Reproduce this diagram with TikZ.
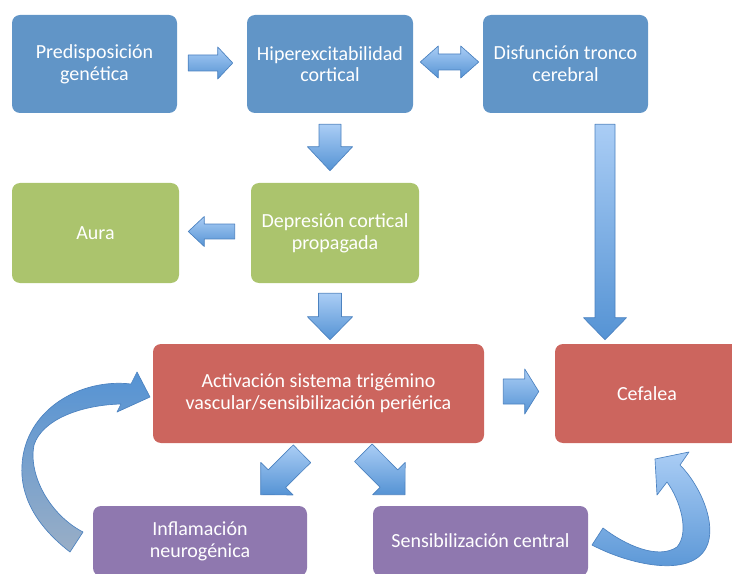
\documentclass[tikz,border=0pt]{standalone}
\usepackage{fontspec}
\setmainfont{Carlito}
\usepackage{tikz}
\usetikzlibrary{calc}
\usepackage{xcolor}

\definecolor{boxblue}{HTML}{6195C7}
\definecolor{boxgreen}{HTML}{ABC46D}
\definecolor{boxred}{HTML}{CC655E}
\definecolor{boxpurple}{HTML}{8F78AF}
\definecolor{arrowtop}{HTML}{AACDF5}
\definecolor{arrowbot}{HTML}{5593D4}
\definecolor{arrowline}{HTML}{4C82C0}

\tikzset{
  stepbox/.style={rounded corners=6pt, inner sep=0pt, align=center, text=white,
                  font=\fontsize{15}{16.3}\selectfont},
  blockarrow/.style={draw=arrowline, line width=0.5pt, line join=round,
                     top color=arrowtop, bottom color=arrowbot}
}

% block arrow: start, end, shaft half width, head half width, head length
\newcommand{\blockarrow}[5]{%
  \coordinate (hb) at ($(#2)!#5!(#1)$);
  \path[blockarrow] ($(#1)!#3!90:(#2)$) -- ($(hb)!#3!-90:(#1)$)
    -- ($(hb)!#4!-90:(#1)$) -- (#2) -- ($(hb)!#4!90:(#1)$)
    -- ($(hb)!#3!90:(#1)$) -- ($(#1)!#3!-90:(#2)$) -- cycle;
}
% double block arrow: left tip, right tip, shaft half width, head half width, head length
\newcommand{\doublearrow}[5]{%
  \coordinate (hl) at ($(#1)!#5!(#2)$);
  \coordinate (hr) at ($(#2)!#5!(#1)$);
  \path[blockarrow] (#1) -- ($(hl)!#4!90:(#2)$) -- ($(hl)!#3!90:(#2)$)
    -- ($(hr)!#3!-90:(#1)$) -- ($(hr)!#4!-90:(#1)$) -- (#2)
    -- ($(hr)!#4!90:(#1)$) -- ($(hr)!#3!90:(#1)$)
    -- ($(hl)!#3!-90:(#2)$) -- ($(hl)!#4!-90:(#2)$) -- cycle;
}

\begin{document}
\begin{tikzpicture}[x=0.75pt, y=-0.75pt]

    \useasboundingbox (0,0) rectangle (732,574);
    \clip (0,0) rectangle (732,574);

    % Boxes (coordinates in pixels of the original slide)
    \node[stepbox, fill=boxblue, minimum width=123.75pt, minimum height=73.5pt] (pred) at (94.5,64) {Predisposición\\genética};
    \node[stepbox, fill=boxblue, minimum width=124.5pt, minimum height=73.5pt] (hiper) at (330,64) {Hiperexcitabilidad\\cortical};
    \node[stepbox, fill=boxblue, minimum width=123.75pt, minimum height=73.5pt] (disf) at (565.5,64) {Disfunción tronco\\cerebral};

    \node[stepbox, fill=boxgreen, minimum width=125.25pt, minimum height=75pt] (aura) at (95.5,233) {Aura};
    \node[stepbox, fill=boxgreen, minimum width=126pt, minimum height=75pt] (dep) at (335,233) {Depresión cortical\\propagada};

    \node[stepbox, fill=boxred, minimum width=248.25pt, minimum height=74.25pt] (act) at (318.5,393.5) {Activación sistema trigémino\\vascular/sensibilización periérica};
    \node[stepbox, fill=boxred, minimum width=138pt, minimum height=74.25pt] (cef) at (647,393.5) {Cefalea};

    \node[stepbox, fill=boxpurple, minimum width=160.5pt, minimum height=52.5pt] (infl) at (200,541) {Inflamación\\neurogénica};
    \node[stepbox, fill=boxpurple, minimum width=161.25pt, minimum height=52.5pt] (sens) at (480.5,541) {Sensibilización central};

    % Arrow end points, taken from the box anchors
    \coordinate (a1s) at ($(pred.east)+(11,-1)$);
    \coordinate (a1e) at ($(hiper.west)+(-14,-1)$);
    \coordinate (a2s) at ($(hiper.east)+(7,-2)$);
    \coordinate (a2e) at ($(disf.west)+(-4,-2)$);
    \coordinate (a3s) at ($(hiper.south)+(0,11)$);
    \coordinate (a3e) at ($(dep.north)+(-5,-12)$);
    \coordinate (a4s) at ($(dep.west)+(-16,-1.5)$);
    \coordinate (a4e) at ($(aura.east)+(9,-1.5)$);
    \coordinate (a5s) at ($(disf.south)+(39.5,11)$);
    \coordinate (a5e) at ($(cef.north)+(-42,-4)$);
    \coordinate (a6s) at ($(dep.south)+(-5,10)$);
    \coordinate (a6e) at ($(act.north)+(11.5,-4)$);
    \coordinate (a7s) at ($(act.east)+(19,-2)$);
    \coordinate (a7e) at ($(cef.west)+(-16,-2)$);
    \coordinate (a8s) at ($(act.south)+(-16.5,10.5)$);
    \coordinate (a8e) at ($(infl.north)+(60.7,-11)$);
    \coordinate (a9s) at ($(act.south)+(44.8,9.5)$);
    \coordinate (a9e) at ($(sens.north)+(-75.5,-11)$);

    % Straight block arrows
    \blockarrow{a1s}{a1e}{6pt}{12pt}{11.25pt}
    \doublearrow{a2s}{a2e}{6pt}{12pt}{13.5pt}
    \blockarrow{a3s}{a3e}{8.25pt}{16.9pt}{18pt}
    \blockarrow{a4s}{a4e}{5.6pt}{11.25pt}{12pt}
    \blockarrow{a5s}{a5e}{7.5pt}{16.1pt}{16.5pt}
    \blockarrow{a6s}{a6e}{8.6pt}{16.9pt}{17.25pt}
    \blockarrow{a7s}{a7e}{9.4pt}{16.9pt}{10.5pt}
    \blockarrow{a8s}{a8e}{9.3pt}{17.2pt}{17.1pt}
    \blockarrow{a9s}{a9e}{9.3pt}{17.2pt}{17.1pt}

    % Curved arrow: inflamacion back to activacion
    \path[draw=arrowline, line width=0.5pt, line join=round, top color=arrowbot, bottom color=arrowtop!60!gray]
      (70,552) .. controls (35,525) and (20,495) .. (22,465)
      .. controls (25,410) and (80,378) .. (131,384)
      -- (137,372) -- (150,397) -- (117,412) -- (121,404)
      .. controls (80,405) and (42,420) .. (34,445)
      .. controls (28,475) and (50,515) .. (83,532) -- cycle;

    % Curved arrow: sensibilizacion central up to cefalea
    \path[blockarrow]
      (592,545) .. controls (630,565) and (690,578) .. (706,548)
      .. controls (718,525) and (700,485) .. (680,465)
      -- (689,452) -- (655,459) -- (657,495) -- (667,482)
      .. controls (680,500) and (690,532) .. (677,547)
      .. controls (658,560) and (625,545) .. (603,528) -- cycle;

\end{tikzpicture}
\end{document}
